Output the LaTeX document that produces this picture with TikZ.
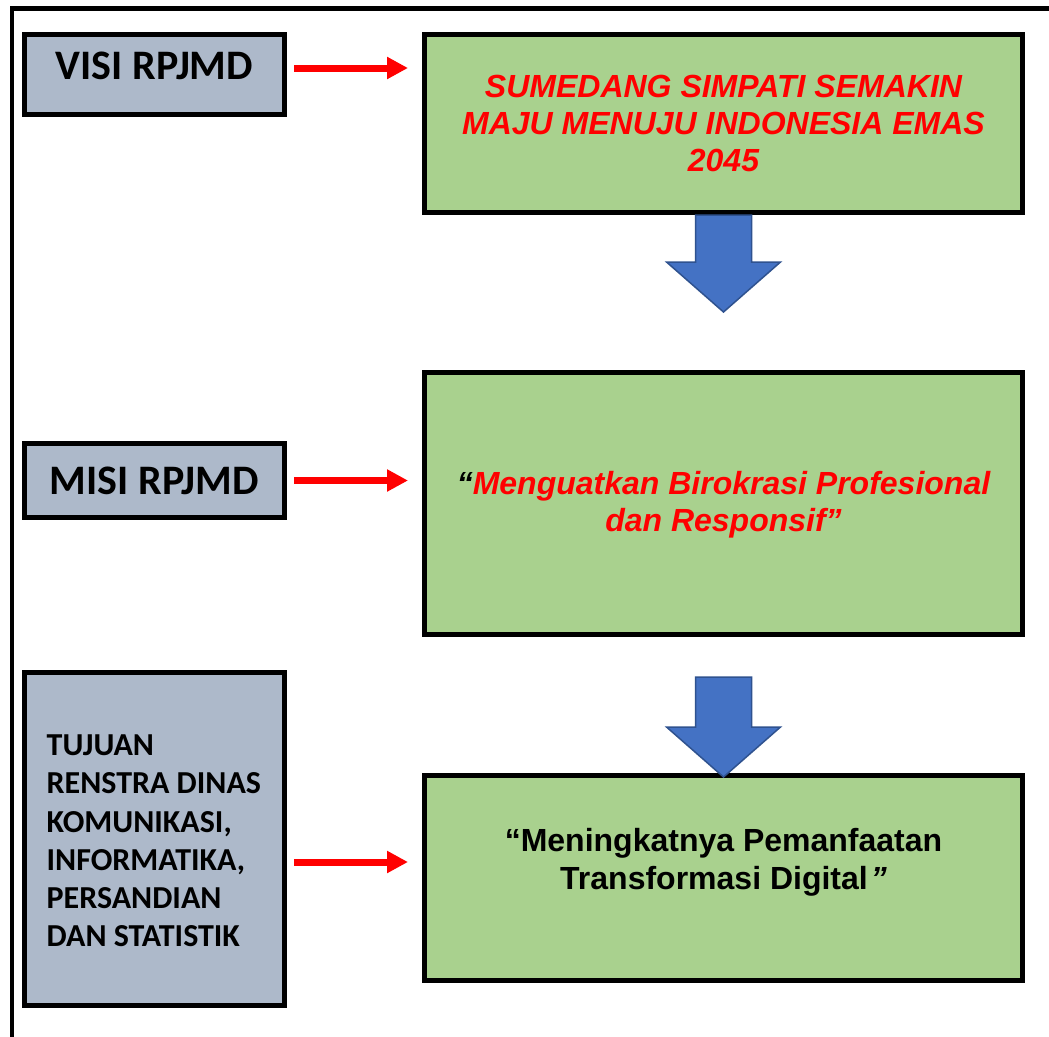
\documentclass[tikz,border=0pt]{standalone}
\usepackage{fontspec}
\setmainfont{Liberation Sans}
\newfontfamily\calfont{Carlito}
\usetikzlibrary{arrows.meta}
\definecolor{boxgrey}{RGB}{173,185,202}
\definecolor{boxgreen}{RGB}{169,209,142}
\definecolor{arrblue}{RGB}{68,114,196}
\definecolor{arrblueedge}{RGB}{47,82,143}
\definecolor{redone}{RGB}{255,0,0}
\begin{document}
\begin{tikzpicture}[x=1pt,y=-1pt,
  lbox/.style={draw=black, line width=5pt, fill=boxgrey, minimum width=260pt, inner sep=0pt, outer sep=2.5pt},
  gbox/.style={draw=black, line width=5pt, fill=boxgreen, minimum width=598pt, inner sep=0pt, outer sep=2.5pt},
  redarr/.style={draw=redone, line width=7pt, shorten <=7pt, shorten >=14pt, -{Triangle[length=21pt,width=21pt]}},
  blockarr/.style={fill=arrblue, draw=arrblueedge, line width=1.5pt, line join=miter},
  lbltxt/.style={font=\calfont\bfseries\fontsize{42}{50}\selectfont, inner sep=0pt},
  redtxt/.style={font=\bfseries\itshape\fontsize{32}{37}\selectfont, text=redone, align=center, inner sep=0pt},
  blktxt/.style={font=\bfseries\fontsize{32}{38}\selectfont, text=black, align=center, inner sep=0pt},
  tujtxt/.style={font=\calfont\bfseries\fontsize{32}{38.2}\selectfont, align=left, anchor=west, inner sep=0pt},
  frame/.style={draw=black, line width=4.5pt}
]
\useasboundingbox[fill=white] (0,0) rectangle (1049,1036);
\draw[frame] (12,1045) -- (12,8.5) -- (1060,8.5);

% left boxes
\node[lbox, minimum height=80pt] (visi) at (154.5,74.5) {};
\node[lbox, minimum height=74pt] (misi) at (154.5,480.5) {};
\node[lbox, minimum height=333pt] (tujuan) at (154.5,839) {};

% green boxes
\node[gbox, minimum height=178pt] (box1) at (723.5,123.5) {};
\node[gbox, minimum height=262pt] (box2) at (723.5,503.5) {};
\node[gbox, minimum height=205pt] (box3) at (723.5,878) {};

% texts
\node[lbltxt] (tvisi) at ([yshift=9pt]visi.center) {VISI RPJMD};
\node[lbltxt] (tmisi) at (misi.center) {MISI RPJMD};
\node[tujtxt] (ttujuan) at ([xshift=24.5pt,yshift=-2pt]tujuan.west) {TUJUAN\\RENSTRA DINAS\\KOMUNIKASI,\\INFORMATIKA,\\PERSANDIAN\\DAN STATISTIK};
\node[redtxt] (t1) at (box1.center) {SUMEDANG SIMPATI SEMAKIN\\MAJU MENUJU INDONESIA EMAS\\2045};
\node[redtxt] (t2) at ([yshift=-1.5pt]box2.center) {{\color{black}“}Menguatkan Birokrasi Profesional\\dan Responsif”};
\node[blktxt] (t3) at ([yshift=15.5pt]box3.center) {“Meningkatnya Pemanfaatan\\Transformasi Digital\kern3pt{\itshape ”}};

% red arrows
\coordinate (a1) at ([yshift=6.5pt]visi.east);
\coordinate (a2) at (misi.east);
\coordinate (a3) at ([yshift=-23pt]tujuan.east);
\draw[redarr] (a1) -- (a1 -| box1.west);
\draw[redarr] (a2) -- (a2 -| box2.west);
\draw[redarr] (a3) -- (a3 -| box3.west);

% blue block arrows
\coordinate (b1) at (box1.south);
\coordinate (b2) at ([yshift=-40pt]box2.south);
\draw[blockarr] (b1) ++(-28,0) -- ++(0,47) -- ++(-29,0) -- ++(57,50) -- ++(57,-50) -- ++(-29,0) -- ++(0,-47) -- cycle;
\draw[blockarr] (b2) ++(-28,0) -- ++(0,50) -- ++(-29,0) -- ++(57,50) -- ++(57,-50) -- ++(-29,0) -- ++(0,-50) -- cycle;
\end{tikzpicture}
\end{document}
